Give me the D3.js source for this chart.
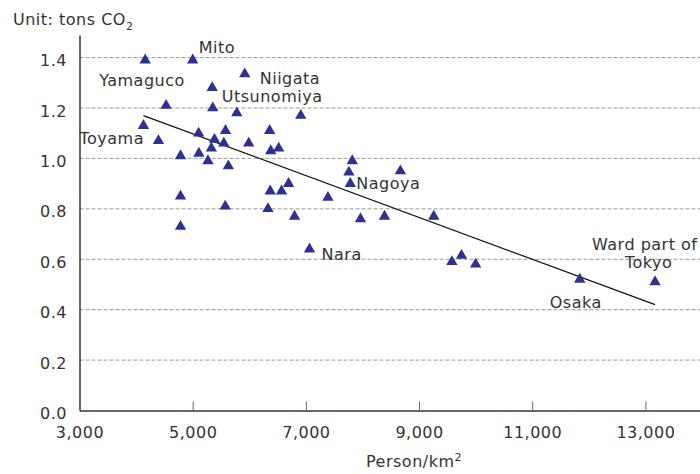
<!DOCTYPE html>
<html>
<head>
<meta charset="utf-8">
<script src="https://cdn.jsdelivr.net/npm/d3@7"></script>
<style>
  html, body { margin: 0; padding: 0; background: #fff; }
  svg { display: block; }
  text { font-family: "DejaVu Sans", sans-serif; fill: #333; letter-spacing: 0.5px; }
</style>
</head>
<body>
<svg id="chart" width="700" height="474"></svg>
<script>
// ---- data ----
const density = [4160, 5000, 5920, 5345, 4530, 5355, 5780, 6910, 4130, 5105,
                 5580, 6360, 4395, 5385, 5330, 5550, 5990, 6380, 6520, 4785,
                 5110, 5270, 5630, 4785, 4785, 5575, 6330, 6370, 6570, 6695,
                 6800, 7065, 7390, 7820, 7760, 7785, 7965, 8390, 8670, 9260,
                 9580, 9750, 10000, 11840, 13170];
const emissions = [1.39, 1.39, 1.335, 1.28, 1.21, 1.20, 1.18, 1.17, 1.13, 1.10,
                   1.11, 1.11, 1.07, 1.075, 1.04, 1.06, 1.06, 1.03, 1.04, 1.01,
                   1.02, 0.99, 0.97, 0.85, 0.73, 0.81, 0.80, 0.87, 0.87, 0.90,
                   0.77, 0.64, 0.845, 0.99, 0.945, 0.90, 0.76, 0.77, 0.95, 0.77,
                   0.59, 0.615, 0.58, 0.52, 0.51];
const trendX = [4130, 13170];
const trendY = [1.17, 0.42];
const xTicks = [3000, 5000, 7000, 9000, 11000, 13000];
const yTicks = [0, 0.2, 0.4, 0.6, 0.8, 1.0, 1.2, 1.4];
// city labels: text + index of the point they annotate
const labelText  = ["Mito", "Yamaguco", "Niigata", "Utsunomiya", "Toyama", "Nagoya", "Nara", "Osaka", "Ward part of", "Tokyo"];
const labelPoint = [1, 0, 2, 5, 12, 35, 31, 43, 44, 44];
const yUnit = "Unit: tons CO";
const xTitle = "Person/km";

// ---- layout ----
const labelOffset = {
  "Mito": [6, -7], "Yamaguco": [-46, 26], "Niigata": [15, 10], "Utsunomiya": [9, -6],
  "Toyama": [-79, 3], "Nagoya": [6, 5], "Nara": [12, 11], "Osaka": [-30, 29],
  "Ward part of": [-63, -32], "Tokyo": [-30, -13.5]
};

const svg = d3.select("#chart");
const x = d3.scaleLinear().domain([3000, 14000]).range([79.5, 702]);
const y = d3.scaleLinear().domain([0, 1.49]).range([410.5, 34.9]);

// gridlines
svg.append("g").selectAll("line")
  .data(yTicks.filter(d => d > 0))
  .join("line")
  .attr("x1", x(3000)).attr("x2", 700)
  .attr("y1", d => y(d)).attr("y2", d => y(d))
  .attr("stroke", "#9a9a9a").attr("stroke-width", 1)
  .attr("stroke-dasharray", "4,2");

// x axis
const xAxis = svg.append("g")
  .attr("transform", `translate(0,${y(0)})`)
  .call(d3.axisBottom(x).tickValues(xTicks).tickFormat(d3.format(",")).tickSizeInner(-9).tickSizeOuter(0));
xAxis.select(".domain").attr("stroke", "#333").attr("stroke-width", 1.5);
xAxis.selectAll(".tick line").attr("stroke", "#666").attr("stroke-width", 1)
  .attr("display", d => d === 3000 ? "none" : null);
xAxis.selectAll(".tick text").attr("y", 27.5).attr("dy", null)
  .style("font-size", "16px").attr("fill", "#333").style("font-family", "DejaVu Sans, sans-serif");

// y axis
const yAxis = svg.append("g")
  .attr("transform", `translate(${x(3000)},0)`)
  .call(d3.axisLeft(y).tickValues(yTicks).tickFormat(d3.format(".1f")).tickSize(0).tickPadding(12.5));
yAxis.select(".domain").attr("stroke", "#333").attr("stroke-width", 1.5);
yAxis.selectAll(".tick text").attr("dy", "8").attr("x", -12.5)
  .style("font-size", "16px").attr("fill", "#333").style("font-family", "DejaVu Sans, sans-serif");

// trend line
svg.append("line")
  .attr("x1", x(trendX[0])).attr("y1", y(trendY[0]))
  .attr("x2", x(trendX[1])).attr("y2", y(trendY[1]))
  .attr("stroke", "#111").attr("stroke-width", 1.2);

// points
const tri = d3.symbol().type(d3.symbolTriangle).size(56);
svg.append("g").selectAll("path")
  .data(density.map((d, i) => [d, emissions[i]]))
  .join("path")
  .attr("d", tri)
  .attr("transform", d => `translate(${x(d[0])},${y(d[1])})`)
  .attr("fill", "#2d3190");

// city labels
svg.append("g").selectAll("text")
  .data(labelText)
  .join("text")
  .attr("x", (t, i) => x(density[labelPoint[i]]) + labelOffset[t][0])
  .attr("y", (t, i) => y(emissions[labelPoint[i]]) + labelOffset[t][1])
  .style("font-size", "16px")
  .text(t => t);

// unit title
const ut = svg.append("text").attr("x", 13).attr("y", 25).style("font-size", "16px");
ut.append("tspan").text(yUnit);
ut.append("tspan").attr("dy", 5).style("font-size", "11px").text("2");

// x title
const xt = svg.append("text").attr("x", 366).attr("y", 467).style("font-size", "16px");
xt.append("tspan").text(xTitle);
xt.append("tspan").attr("dy", -6).style("font-size", "11px").text("2");
</script>
</body>
</html>
